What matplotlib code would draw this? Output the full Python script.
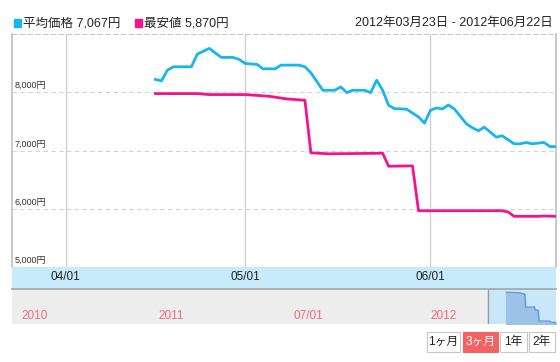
import pandas as pd
import matplotlib
matplotlib.use("Agg")
import matplotlib.pyplot as plt
import matplotlib.dates as mdates
from matplotlib.patches import Rectangle

plt.rcParams['font.family'] = ['Liberation Sans', 'Noto Sans CJK JP', 'DejaVu Sans']

# --- data ---
avg_dates = ['04-16', '04-17', '04-18', '04-19', '04-22', '04-23', '04-25', '04-27', '04-29',
             '04-30', '05-01', '05-03', '05-04', '05-06', '05-07', '05-10', '05-11', '05-12',
             '05-14', '05-16', '05-17', '05-18', '05-19', '05-21', '05-22', '05-23', '05-24',
             '05-25', '05-26', '05-28', '05-30', '05-31', '06-01', '06-02', '06-03', '06-04',
             '06-05', '06-07', '06-08', '06-09', '06-10', '06-12', '06-13', '06-15', '06-16',
             '06-17', '06-18', '06-20', '06-21', '06-22']
avg_prices = [8220, 8195, 8380, 8437, 8437, 8655, 8753, 8598, 8598,
              8563, 8494, 8477, 8402, 8402, 8466, 8466, 8437, 8333,
              8034, 8034, 8091, 7994, 8034, 8034, 7994, 8207, 8034,
              7776, 7718, 7710, 7575, 7471, 7690, 7730, 7713, 7782,
              7713, 7460, 7391, 7339, 7402, 7230, 7253, 7115, 7115,
              7138, 7115, 7138, 7067, 7067]

min_dates = ['04-16', '04-23', '04-25', '05-01', '05-05', '05-08', '05-11', '05-12', '05-15',
             '05-24', '05-25', '05-29', '05-30', '06-13', '06-14', '06-15', '06-19', '06-20',
             '06-22']
min_prices = [7977, 7977, 7960, 7960, 7931, 7885, 7862, 6960, 6943,
              6953, 6730, 6736, 5966, 5966, 5943, 5870, 5870, 5875,
              5870]

y_ticks = [5000, 6000, 7000, 8000]
month_ticks = ['2012-04-01', '2012-05-01', '2012-06-01']
month_labels = ['04/01', '05/01', '06/01']
nav_ticks = ['2010-07-01', '2011-01-01', '2011-07-01', '2012-01-01']
nav_labels = ['2010', '2011', '07/01', '2012']

avg_x = pd.to_datetime(['2012-' + d for d in avg_dates])
min_x = pd.to_datetime(['2012-' + d for d in min_dates])
start, end = pd.Timestamp('2012-03-23'), pd.Timestamp('2012-06-22')

BLUE = '#19b5ee'
PINK = '#f2148c'
W, H = 560, 362

fig = plt.figure(figsize=(W / 100, H / 100), dpi=100)

def box(x0, y0, x1, y1):
    # pixel box (top-left origin) -> figure fractions
    return [x0 / W, (H - y1) / H, (x1 - x0) / W, (y1 - y0) / H]

# --- main plot ---
ax = fig.add_axes(box(12, 34, 556, 267))
ax.set_xlim(start, end)
ax.set_ylim(5000, 9000)
for v in y_ticks[1:]:
    ax.axhline(v, color='#d4d4d4', lw=0.8, ls=(0, (4, 3)), zorder=1)
for d in month_ticks:
    ax.axvline(pd.Timestamp(d), color='#d0d0d0', lw=1.0, zorder=1)
ax.plot(avg_x, avg_prices, color=BLUE, lw=2.0, solid_joinstyle='round', zorder=3)
ax.plot(min_x, min_prices, color=PINK, lw=2.0, solid_joinstyle='round', zorder=3)
for v in y_ticks:
    ax.annotate(f'{v:,}円', xy=(0.004, v), xycoords=ax.get_yaxis_transform(),
                xytext=(0, 1.5), textcoords='offset points', va='bottom', ha='left',
                fontsize=6.5, color='#333333')
ax.set_xticks([])
ax.set_yticks([])
for s in ['top', 'bottom']:
    ax.spines[s].set_color('#c8c8c8')
    ax.spines[s].set_linestyle((0, (4, 3)))
    ax.spines[s].set_linewidth(0.8)
for s in ['left', 'right']:
    ax.spines[s].set_color('#c4c4c4')
    ax.spines[s].set_linewidth(1.3)

# --- x axis label band ---
band = fig.add_axes(box(12, 267, 556, 288))
band.set_facecolor('#c8ebfb')
band.set_xlim(start, end)
band.set_ylim(0, 1)
for d, lab in zip(month_ticks, month_labels):
    band.text(mdates.date2num(pd.Timestamp(d)), 0.5, lab, ha='center', va='center',
              fontsize=8.5, color='#222222')
band.set_xticks([])
band.set_yticks([])
for s in band.spines.values():
    s.set_visible(False)

# --- navigator ---
nav = fig.add_axes(box(12, 289, 556, 324))
nav.set_facecolor('#ededed')
nav.set_xlim(pd.Timestamp('2010-06-22'), end)
nav.set_ylim(5760, 8210)
nav.axvspan(start, end, color='#c8e8f8', zorder=1)
nav.axvline(start, color='#9a9a9a', lw=1.0, zorder=2)
nav.fill_between(min_x, min_prices, 5760, color='#9dc2e8', zorder=3)
nav.plot(min_x, min_prices, color='#5d9cd8', lw=0.9, zorder=4)
for d, lab in zip(nav_ticks, nav_labels):
    nav.annotate(lab, xy=(mdates.date2num(pd.Timestamp(d)), 0.23),
                 xycoords=nav.get_xaxis_transform(),
                 xytext=(2, 0), textcoords='offset points', ha='left', va='center',
                 fontsize=8.5, color='#f36b7b')
nav.set_xticks([])
nav.set_yticks([])
for s in ['left', 'right', 'bottom']:
    nav.spines[s].set_visible(False)
nav.spines['top'].set_color('#a8a8a8')
nav.spines['top'].set_linewidth(1.3)

# --- legend and date range ---
fig.patches.append(Rectangle((14 / W, (H - 27) / H), 7 / W, 8 / H, color=BLUE,
                             transform=fig.transFigure, figure=fig))
fig.text(23 / W, (H - 23) / H, '平均価格 7,067円', ha='left', va='center', fontsize=9, color='#222222')
fig.patches.append(Rectangle((135 / W, (H - 27) / H), 7 / W, 8 / H, color=PINK,
                             transform=fig.transFigure, figure=fig))
fig.text(144 / W, (H - 23) / H, '最安値 5,870円', ha='left', va='center', fontsize=9, color='#222222')
fig.text(553 / W, (H - 23) / H, '2012年03月23日 - 2012年06月22日', ha='right', va='center',
         fontsize=9, color='#222222')

# --- range buttons ---
buttons = [('1ヶ月', 427, 460, False), ('3ヶ月', 463, 498, True),
           ('1年', 500, 527, False), ('2年', 529, 555, False)]
for lab, x0, x1, active in buttons:
    face = '#f26262' if active else 'white'
    edge = '#f26262' if active else '#c8c8c8'
    fig.patches.append(Rectangle((x0 / W, (H - 352) / H), (x1 - x0) / W, 20 / H,
                                 facecolor=face, edgecolor=edge, lw=0.8,
                                 transform=fig.transFigure, figure=fig))
    fig.text((x0 + x1) / 2 / W, (H - 342) / H, lab, ha='center', va='center', fontsize=8.5,
             color='white' if active else '#222222')

fig.savefig('out.png', dpi=100)
